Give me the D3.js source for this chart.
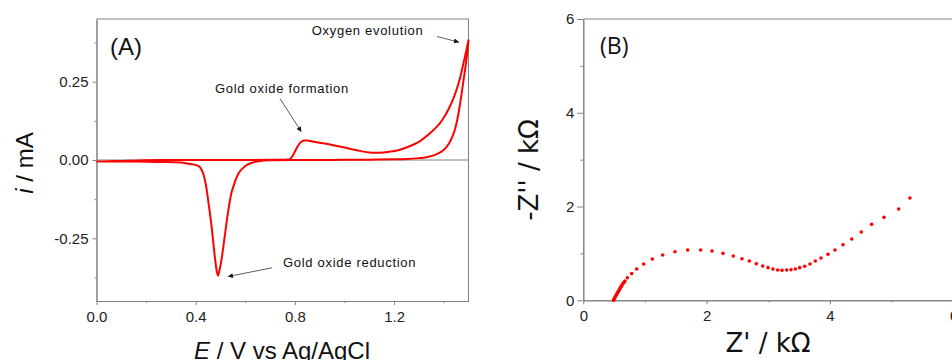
<!DOCTYPE html>
<html>
<head>
<meta charset="utf-8">
<script src="https://cdn.jsdelivr.net/npm/d3@7"></script>
<style>
  body { margin: 0; background: #fff; }
  svg { display: block; }
  .tk text { font-family: "Liberation Sans", Arial, sans-serif; fill: #222; }
  .tk path, .tk line { stroke: #808080; }
</style>
</head>
<body>
<svg id="plot" width="952" height="360"></svg>
<script>
// (A) cyclic voltammogram, E in V, i in mA
var forwardE = [0, 0.05, 0.1, 0.15, 0.2, 0.3, 0.4, 0.5, 0.6, 0.7, 0.76, 0.78, 0.79, 0.8, 0.81, 0.82, 0.83, 0.84, 0.85, 0.87, 0.9, 0.95, 1.0, 1.05, 1.1, 1.14, 1.18, 1.22, 1.26, 1.3, 1.34, 1.38, 1.4, 1.42, 1.44, 1.46, 1.47, 1.48, 1.49, 1.5]
var forwardI = [-0.005, -0.004, -0.003, -0.002, -0.001, 0, 0, 0, 0, 0.0005, 0.001, 0.003, 0.012, 0.027, 0.042, 0.054, 0.06, 0.062, 0.062, 0.059, 0.055, 0.048, 0.04, 0.031, 0.024, 0.023, 0.026, 0.032, 0.043, 0.058, 0.082, 0.113, 0.135, 0.163, 0.198, 0.245, 0.275, 0.31, 0.345, 0.382]
var reverseE = [1.5, 1.49, 1.48, 1.47, 1.46, 1.45, 1.44, 1.42, 1.4, 1.37, 1.33, 1.3, 1.25, 1.2, 1.1, 1.0, 0.9, 0.8, 0.7, 0.66, 0.63, 0.61, 0.59, 0.575, 0.564, 0.554, 0.544, 0.53, 0.517, 0.504, 0.495, 0.49, 0.485, 0.477, 0.464, 0.45, 0.44, 0.43, 0.42, 0.41, 0.39, 0.37, 0.34, 0.25, 0.13, 0]
var reverseI = [0.382, 0.31, 0.255, 0.2, 0.15, 0.112, 0.084, 0.051, 0.032, 0.018, 0.009, 0.006, 0.003, 0.002, 0.001, 0.0005, 0, 0, -0.001, -0.003, -0.008, -0.014, -0.026, -0.04, -0.057, -0.08, -0.105, -0.169, -0.244, -0.318, -0.355, -0.369, -0.355, -0.308, -0.212, -0.127, -0.075, -0.043, -0.026, -0.019, -0.014, -0.012, -0.008, -0.006, -0.005, -0.005]

var xTicksA = [0, 0.4, 0.8, 1.2], xMinorA = [0.2, 0.6, 1.0, 1.4]
var yTicksA = [-0.25, 0, 0.25], yMinorA = [-0.375, -0.125, 0.125, 0.375]

// annotation labels and arrows, in data units: [textE, textI, fromE, fromI, toE, toI]
var noteLabels = ['Oxygen evolution', 'Gold oxide formation', 'Gold oxide reduction']
var notePlaces = [[0.868, 0.40, 1.373, 0.394, 1.462, 0.376],
                  [0.478, 0.215, 0.74, 0.196, 0.826, 0.09],
                  [0.752, -0.343, 0.708, -0.344, 0.53, -0.372]]

// (B) Nyquist plot, kOhm
var zReal = [0.49, 0.495, 0.5, 0.509, 0.518, 0.53, 0.54, 0.551, 0.562, 0.574, 0.585, 0.595, 0.606, 0.616, 0.63, 0.644, 0.66, 0.676, 0.714, 0.785, 0.866, 0.979, 1.119, 1.287, 1.487, 1.693, 1.903, 2.087, 2.265, 2.432, 2.573, 2.692, 2.805, 2.909, 2.995, 3.076, 3.152, 3.222, 3.298, 3.368, 3.438, 3.509, 3.59, 3.676, 3.762, 3.854, 3.968, 4.081, 4.211, 4.352, 4.508, 4.676, 4.876, 5.114, 5.297]
var zImag = [0, 0.01, 0.03, 0.05, 0.075, 0.1, 0.125, 0.15, 0.175, 0.2, 0.225, 0.25, 0.275, 0.3, 0.33, 0.36, 0.385, 0.41, 0.48, 0.57, 0.667, 0.774, 0.88, 0.966, 1.036, 1.072, 1.072, 1.051, 1.001, 0.944, 0.887, 0.838, 0.781, 0.731, 0.696, 0.667, 0.646, 0.639, 0.646, 0.653, 0.667, 0.696, 0.725, 0.774, 0.838, 0.902, 0.981, 1.072, 1.186, 1.307, 1.456, 1.62, 1.77, 1.947, 2.181]

var xTicksB = [0, 2, 4, 6], xMinorB = [1, 3, 5]
var yTicksB = [0, 2, 4, 6], yMinorB = [1, 3, 5]

var svg = d3.select('#plot'),
    grey = '#808080',
    fmt = function(f) { return function(d) { return d3.format(f)(d).replace('\u2212', '-') } }

// ---------- panel A ----------
var xA = d3.scaleLinear().domain([0, 1.5]).range([96.5, 468.5]),
    yA = d3.scaleLinear().domain([-0.45, 0.45]).range([301, 19])

var gA = svg.append('g')

gA.append('line').attr('x1', xA(0)).attr('x2', xA(1.5)).attr('y1', yA(0.45)).attr('y2', yA(0.45)).attr('stroke', grey)
gA.append('line').attr('x1', xA(1.5)).attr('x2', xA(1.5)).attr('y1', yA(0.45)).attr('y2', yA(-0.45)).attr('stroke', grey)
gA.append('line').attr('x1', xA(0)).attr('x2', xA(1.5)).attr('y1', yA(0)).attr('y2', yA(0)).attr('stroke', grey)

gA.append('g').attr('class', 'tk').attr('transform', 'translate(0,' + yA(-0.45) + ')')
  .call(d3.axisBottom(xA).tickValues(xTicksA).tickFormat(fmt('.1f')).tickSize(4).tickSizeOuter(0))
  .call(function(g) { g.selectAll('text').attr('font-size', 15).attr('dy', '0.9em') })
gA.append('g').attr('class', 'tk').attr('transform', 'translate(0,' + yA(-0.45) + ')')
  .call(d3.axisBottom(xA).tickValues(xMinorA).tickFormat('').tickSize(2).tickSizeOuter(0))
gA.append('g').attr('class', 'tk').attr('transform', 'translate(' + xA(0) + ',0)')
  .call(d3.axisLeft(yA).tickValues(yTicksA).tickFormat(fmt('.2f')).tickSize(4).tickSizeOuter(0))
  .call(function(g) { g.selectAll('text').attr('font-size', 15).attr('x', -8) })
gA.append('g').attr('class', 'tk').attr('transform', 'translate(' + xA(0) + ',0)')
  .call(d3.axisLeft(yA).tickValues(yMinorA).tickFormat('').tickSize(2).tickSizeOuter(0))

var loop = forwardE.map(function(e, k) { return [e, forwardI[k]] })
  .concat(reverseE.map(function(e, k) { return [e, reverseI[k]] }))

gA.append('path').datum(loop)
  .attr('fill', 'none').attr('stroke', '#ff0000').attr('stroke-width', 2).attr('stroke-linejoin', 'round')
  .attr('d', d3.line().x(function(d) { return xA(d[0]) }).y(function(d) { return yA(d[1]) }).curve(d3.curveCatmullRom.alpha(0.5)))

svg.append('defs').append('marker').attr('id', 'arr')
  .attr('viewBox', '0 0 10 10').attr('refX', 10).attr('refY', 5)
  .attr('markerWidth', 7).attr('markerHeight', 5).attr('markerUnits', 'userSpaceOnUse').attr('orient', 'auto')
  .append('path').attr('d', 'M0,0L10,5L0,10z').attr('fill', '#111')

noteLabels.forEach(function(t, k) {
  var p = notePlaces[k]
  gA.append('text').attr('x', xA(p[0])).attr('y', yA(p[1]))
    .attr('font-family', '"Liberation Sans", Arial, sans-serif').attr('font-size', 13).attr('letter-spacing', 0.7)
    .attr('fill', '#111').text(t)
  gA.append('line').attr('x1', xA(p[2])).attr('y1', yA(p[3])).attr('x2', xA(p[4])).attr('y2', yA(p[5]))
    .attr('stroke', '#333').attr('stroke-width', 0.8).attr('marker-end', 'url(#arr)')
})

gA.append('text').attr('x', 110).attr('y', 55)
  .attr('font-family', '"Liberation Sans", Arial, sans-serif').attr('font-size', 24).attr('fill', '#111').text('(A)')

var yLabA = gA.append('text').attr('transform', 'translate(33,163) rotate(-90)').attr('text-anchor', 'middle')
  .attr('font-family', '"Liberation Sans", Arial, sans-serif').attr('font-size', 24).attr('fill', '#111')
yLabA.append('tspan').attr('font-style', 'italic').text('i')
yLabA.append('tspan').text(' / mA')

var xLabA = gA.append('text').attr('x', 282).attr('y', 359).attr('text-anchor', 'middle')
  .attr('font-family', '"Liberation Sans", Arial, sans-serif').attr('font-size', 24).attr('fill', '#111')
xLabA.append('tspan').attr('font-style', 'italic').text('E')
xLabA.append('tspan').text(' / V vs Ag/AgCl')

// ---------- panel B ----------
var xB = d3.scaleLinear().domain([0, 7]).range([583.3, 583.3 + 7 * 61.67]),
    yB = d3.scaleLinear().domain([0, 6]).range([300.3, 19])

var gB = svg.append('g')

gB.append('line').attr('x1', xB(0)).attr('x2', 952).attr('y1', yB(6)).attr('y2', yB(6)).attr('stroke', grey)

gB.append('g').attr('class', 'tk').attr('transform', 'translate(0,' + yB(0) + ')')
  .call(d3.axisBottom(xB).tickValues(xTicksB).tickFormat(d3.format('d')).tickSize(4).tickSizeOuter(0))
  .call(function(g) { g.selectAll('text').attr('font-size', 15).attr('dy', '0.9em') })
gB.append('g').attr('class', 'tk').attr('transform', 'translate(0,' + yB(0) + ')')
  .call(d3.axisBottom(xB).tickValues(xMinorB).tickFormat('').tickSize(2).tickSizeOuter(0))
gB.append('g').attr('class', 'tk').attr('transform', 'translate(' + xB(0) + ',0)')
  .call(d3.axisLeft(yB).tickValues(yTicksB).tickFormat(d3.format('d')).tickSize(6).tickSizeOuter(0))
  .call(function(g) { g.selectAll('text').attr('font-size', 15).attr('x', -9) })
gB.append('g').attr('class', 'tk').attr('transform', 'translate(' + xB(0) + ',0)')
  .call(d3.axisLeft(yB).tickValues(yMinorB).tickFormat('').tickSize(3).tickSizeOuter(0))

gB.selectAll('circle.pt').data(zReal).enter().append('circle').attr('class', 'pt')
  .attr('cx', function(d) { return xB(d) })
  .attr('cy', function(d, k) { return yB(zImag[k]) })
  .attr('r', 1.8).attr('fill', '#ff0000')

gB.append('text').attr('x', 600).attr('y', 54)
  .attr('font-family', '"Open Sans", sans-serif').attr('font-size', 23).attr('fill', '#111').text('(B)')

gB.append('text').attr('transform', 'translate(538,170) rotate(-90)').attr('text-anchor', 'middle')
  .attr('font-family', '"DejaVu Sans", sans-serif').attr('font-size', 26).attr('fill', '#111')
  .text("-Z'' / k\u03A9")

gB.append('text').attr('x', 768).attr('y', 352).attr('text-anchor', 'middle')
  .attr('font-family', '"DejaVu Sans", sans-serif').attr('font-size', 26).attr('fill', '#111')
  .text("Z' / k\u03A9")
</script>
</body>
</html>
